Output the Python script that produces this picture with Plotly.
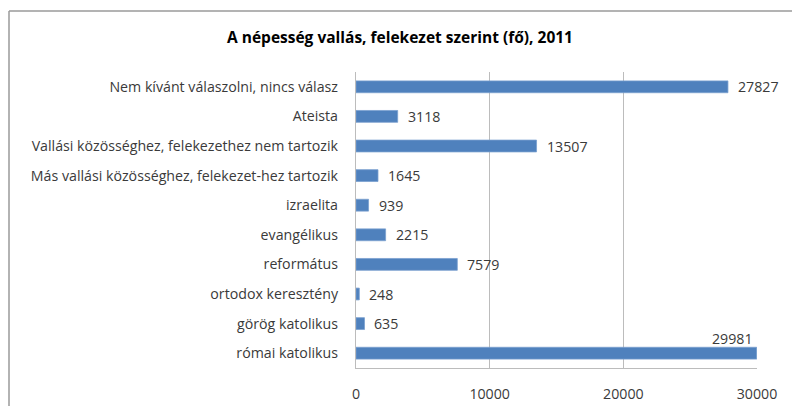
import plotly.graph_objects as go

categories = [
    "római katolikus",
    "görög katolikus",
    "ortodox keresztény",
    "református",
    "evangélikus",
    "izraelita",
    "Más vallási közösséghez, felekezet-hez tartozik",
    "Vallási közösséghez, felekezethez nem tartozik",
    "Ateista",
    "Nem kívánt válaszolni, nincs válasz",
]
values = [29981, 635, 248, 7579, 2215, 939, 1645, 13507, 3118, 27827]
x_ticks = [0, 10000, 20000, 30000]
x_max = 30000

title_text = "A népesség vallás, felekezet szerint (fő), 2011"
font_family = "Open Sans, sans-serif"
text_color = "#3a3a3a"
bar_color = "#4f81bd"
grid_color = "#bcbcbc"
fs = 14.2

fig = go.Figure()
fig.add_trace(go.Bar(
    y=categories,
    x=values,
    orientation="h",
    marker=dict(color=bar_color, line=dict(color="#7aa0cf", width=0.8)),
    width=0.4,
    hoverinfo="x+y",
))

# value labels: beside the bar end, or above it when the bar reaches the axis end
for cat, v in zip(categories, values):
    if v > 0.95 * x_max:
        fig.add_annotation(x=v, y=cat, text=str(v), showarrow=False,
                           xanchor="right", yanchor="bottom", yshift=3,
                           xshift=-2,
                           font=dict(family=font_family, size=fs, color=text_color))
    else:
        fig.add_annotation(x=v, y=cat, text=str(v), showarrow=False,
                           xanchor="left", yanchor="middle", xshift=8,
                           font=dict(family=font_family, size=fs, color=text_color))

L, R, T, B = 356, 35, 72, 38
W, H = 792, 406
pw, ph = W - L - R, H - T - B

# outer chart frame (top and left edges)
fx = (9 - L) / pw
fy = 1 + (T - 11) / ph
fig.add_shape(type="line", xref="paper", yref="paper", x0=fx, x1=(W - L) / pw + 0.05,
              y0=fy, y1=fy, line=dict(color="#9a9a9a", width=1.5))
fig.add_shape(type="line", xref="paper", yref="paper", x0=fx, x1=fx,
              y0=fy, y1=-(B + 5) / ph, line=dict(color="#9a9a9a", width=1.5))

fig.update_layout(
    width=W, height=H,
    margin=dict(l=L, r=R, t=T, b=B, pad=0),
    paper_bgcolor="white",
    plot_bgcolor="white",
    showlegend=False,
    bargap=0.6,
    title=dict(text=f"<b>{title_text}</b>", x=400 / W, xanchor="center",
               y=1 - 38 / H, yanchor="middle",
               font=dict(family=font_family, size=15.5, color="#000000")),
    font=dict(family=font_family, size=fs, color=text_color),
)
fig.update_xaxes(
    range=[0, x_max],
    tickvals=x_ticks,
    ticktext=[str(t) for t in x_ticks],
    showgrid=True, gridcolor=grid_color, gridwidth=1.3,
    zeroline=False,
    showline=True, linecolor=grid_color, linewidth=1.3,
    ticks="", ticklabelstandoff=13,
    tickfont=dict(family=font_family, size=fs, color=text_color),
    automargin=False,
    fixedrange=True,
)
fig.update_yaxes(
    categoryorder="array", categoryarray=categories,
    showgrid=False, zeroline=False,
    showline=True, linecolor=grid_color, linewidth=1.3,
    ticks="", ticklabelstandoff=14,
    tickfont=dict(family=font_family, size=fs, color=text_color),
    range=[-0.5, len(categories) - 0.5],
    automargin=False,
    fixedrange=True,
)

fig.write_html("out.html")
